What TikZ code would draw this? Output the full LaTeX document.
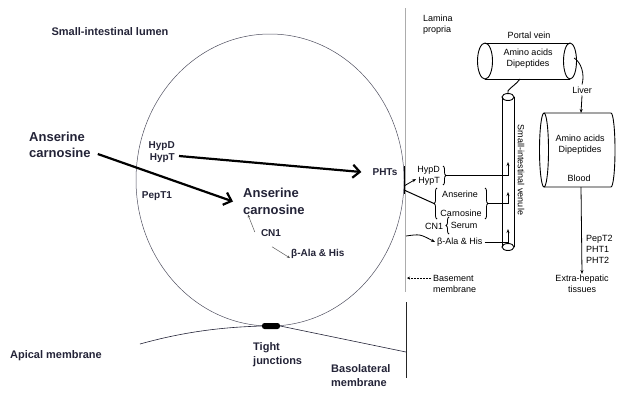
\documentclass[tikz,border=0pt]{standalone}
\usepackage{fontspec}
\setmainfont{Liberation Sans}
\usetikzlibrary{arrows.meta,decorations.pathreplacing}
\definecolor{ink}{RGB}{35,35,55}

\begin{document}
\begin{tikzpicture}[x=1pt,y=1pt,
	lbl/.style={font=\bfseries\fontsize{10}{12}\selectfont, text=ink},
	toplbl/.style={font=\bfseries\fontsize{11}{14}\selectfont, text=ink},
	biglbl/.style={font=\bfseries\fontsize{13}{16.5}\selectfont, text=ink, align=left},
	rlbl/.style={font=\fontsize{9}{11}\selectfont},
	fat/.style={line width=2.2pt, -{Straight Barb[length=7pt,width=13pt]}},
	thinarr/.style={line width=0.8pt, -{Stealth[length=4pt,width=3pt]}},
	hydro/.style={gray!70!black, line width=0.5pt, -{Stealth[length=3pt,width=2.5pt]}},
	brc/.style={decorate, decoration={brace, amplitude=3pt}, line width=0.8pt},
	tube/.style={line width=0.9pt}]
		\tikzstyle{every node}+=[inner sep=0pt]
		\useasboundingbox (0,0) rectangle (617,-392);
		\draw [ink!80, line width=0.5pt] (270,-180) ellipse [x radius=134, y radius=146];
		\draw [gray!65, line width=0.9pt] (405,-8) -- (405,-292);
		\draw [black!85, line width=0.8pt] (406,-302) -- (406,-378);
		\draw [black, line width=1pt] (404,-166) -- (404,-194);
		\node [fill=black, rounded corners=2.5pt, minimum width=18pt, minimum height=6pt] (tj) at (271,-326) {};
		\coordinate (apl) at (140,-344);
		\coordinate (bsl) at (406,-352);
		\draw [ink, line width=0.6pt] (apl) .. controls (190,-330) and (230,-327) .. (tj.west);
		\draw [ink, line width=0.6pt] (tj.east) -- (bsl);
		\node [toplbl] (lumen) at (110,-32) {Small-intestinal lumen};
		\node [toplbl] (apical) at (56,-356) {Apical membrane};
		\node [toplbl, align=left, anchor=west] (tight) at (253,-355) {Tight\\junctions};
		\node [toplbl, align=left, anchor=west] (baso) at (331,-376) {Basolateral\\membrane};
		\node [biglbl, anchor=west] (ac1) at (29,-145) {Anserine\\carnosine};
		\node [biglbl, anchor=west] (ac2) at (243,-201.5) {Anserine\\carnosine};
		\node [lbl, align=right, anchor=east] (hyp1) at (175,-152) {HypD\\HypT};
		\node [lbl] (pht) at (385,-172) {PHTs};
		\node [lbl] (pep1) at (157,-196) {PepT1};
		\node [lbl] (cn) at (271,-233) {CN1};
		\node [lbl, anchor=west] (bah) at (291,-254) {β-Ala \& His};
		\draw [fat] ([shift={(7,-9)}]ac1.east) -- ([xshift=-10pt]ac2.west);
		\draw [fat] ([shift={(4,-4)}]hyp1.east) -- ([xshift=-11pt]pht.west);
		\draw [hydro] ([shift={(-6,1)}]cn.west) -- ([shift={(5,0)}]ac2.south west);
		\draw [hydro] ([shift={(1,-10)}]cn.south) -- ([shift={(-1,-4)}]bah.west);
		\node [rlbl, align=left, anchor=west] (lamina) at (423,-25) {Lamina\\propria};
		\node [rlbl] (pvlab) at (529,-35) {Portal vein};
		\node [rlbl, align=center] (pvtxt) at (528,-59) {Amino acids\\Dipeptides};
		\node [rlbl] (liver) at (582,-90) {Liver};
		\node [rlbl, align=center] (bltxt) at (580,-145) {Amino acids\\Dipeptides};
		\node [rlbl] (blood) at (579,-178) {Blood};
		\node [rlbl, align=left, anchor=west] (pepts) at (586,-249) {PepT2\\PHT1\\PHT2};
		\node [rlbl, align=center] (extra) at (582,-284) {Extra-hepatic\\tissues};
		\node [rlbl, rotate=-90] (venlab) at (521,-170) {Small-intestinal venule};
		\node [rlbl, align=right, anchor=east] (hyp2) at (440,-176) {HypD\\HypT};
		\node [rlbl] (ans) at (460,-194) {Anserine};
		\node [rlbl] (carn) at (461,-213) {Carnosine};
		\node [rlbl] (cn2) at (434,-226) {CN1};
		\node [rlbl] (serum) at (464,-225) {Serum};
		\node [rlbl, anchor=west] (bah2) at (437,-242) {β-Ala \& His};
		\node [rlbl, align=left, anchor=west] (basement) at (433,-284) {Basement\\membrane};
		\draw [tube] (485,-43) -- (570,-43) (485,-79) -- (570,-79);
		\draw [tube] (485,-61) ellipse [x radius=7.5, y radius=18];
		\draw [tube] (570,-61) ellipse [x radius=6.5, y radius=18];
		\draw [tube] (502,-97) -- (502,-247) (514,-97) -- (514,-247);
		\draw [tube] (508,-97) ellipse [x radius=6, y radius=3.5];
		\draw [tube] (508,-247) ellipse [x radius=6, y radius=3.5];
		\draw [tube] (544,-150) ellipse [x radius=4.5, y radius=37];
		\draw [tube] (544,-113) -- (611,-113) arc [start angle=90, end angle=-90, x radius=4, y radius=37] -- (544,-187);
		\coordinate (pvb) at (520,-79);
		\coordinate (vt) at (508,-94);
		\coordinate (pvr) at (574,-58);
		\coordinate (bltop) at (581,-113);
		\coordinate (blbot) at (581,-187);
		\draw [tube] (pvb) .. controls (513,-88) and (506,-89) .. (vt);
		\draw [line width=0.8pt] (pvr) .. controls (581,-62) and (585,-74) .. ([yshift=2pt]liver.north);
		\draw [thinarr] ([yshift=-2pt]liver.south) -- (bltop);
		\draw [thinarr] (blbot) -- ([yshift=1pt]extra.north);
		\draw [brc] (443,-166) -- (443,-185);
		\draw [brc] (437,-219) -- (437,-188);
		\draw [brc] (485,-188) -- (485,-219);
		\draw [brc] (449,-234) -- (449,-217);
		\coordinate (hb) at (446,-175.5);
		\coordinate (lb1) at (434,-203.5);
		\coordinate (rb1) at (488,-203.5);
		\coordinate (v1) at (508,-162);
		\coordinate (v2) at (508,-192);
		\coordinate (v3) at (508,-229);
		\coordinate (m1) at (404,-186);
		\coordinate (m2) at (404,-190);
		\coordinate (m3) at (406,-236);
		\coordinate (bm) at (407,-278);
		\draw [thinarr] (hb) -| (v1);
		\draw [thinarr] (rb1) -| (v2);
		\draw [thinarr] ([xshift=2pt]bah2.east) -| (v3);
		\draw [thinarr] (m1) -- ([shift={(-1,-3)}]hyp2.west);
		\draw [line width=1pt] (m2) -- (lb1);
		\draw [thinarr] (m3) .. controls (420,-234) .. ([xshift=-2pt]bah2.west);
		\draw [line width=0.7pt, dash pattern=on 2pt off 1pt, -{Stealth[length=3pt,width=3pt]}] ([shift={(-2,6)}]basement.west) -- (bm);
\end{tikzpicture}
\end{document}
